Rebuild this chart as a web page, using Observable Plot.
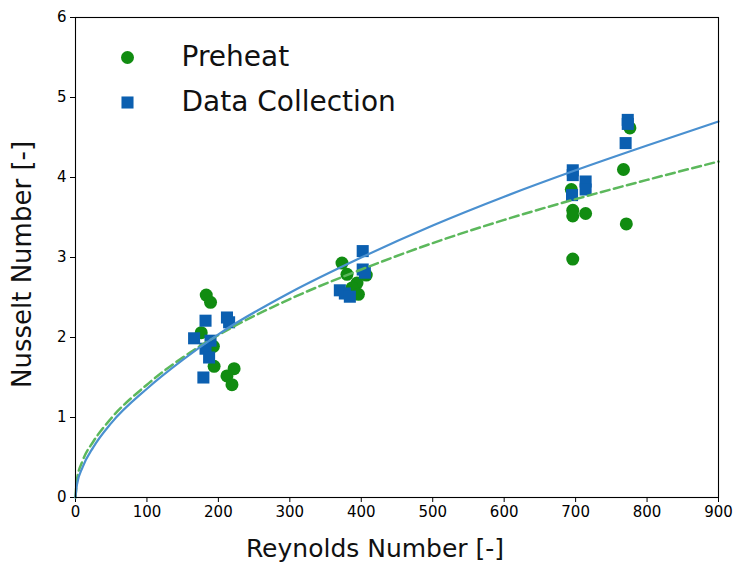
<!DOCTYPE html>
<html><head><meta charset="utf-8">
<script src="https://cdn.jsdelivr.net/npm/d3@7"></script>
<script src="https://cdn.jsdelivr.net/npm/@observablehq/plot@0.6"></script>
<style>body{margin:0;background:#fff;} #chart{width:737px;height:562px;}</style>
</head><body><div id="chart"></div>
<script>
// Preheat measurements (Reynolds, Nusselt)
const preheatRe = [183, 189, 176, 193, 194, 222, 212, 219,
                   373, 380, 407, 394, 387, 396,
                   694, 696, 696, 714, 696, 776, 767, 771];
const preheatNu = [2.53, 2.44, 2.06, 1.89, 1.64, 1.61, 1.52, 1.41,
                   2.93, 2.79, 2.78, 2.68, 2.62, 2.54,
                   3.85, 3.59, 3.52, 3.55, 2.98, 4.62, 4.10, 3.42];
// Data Collection measurements
const collectRe = [182, 212, 215, 166, 189, 182, 187, 179,
                   402, 402, 405, 370, 377, 384,
                   696, 696, 714, 714, 695, 773, 773, 770];
const collectNu = [2.21, 2.25, 2.19, 1.99, 1.96, 1.86, 1.75, 1.50,
                   3.08, 2.85, 2.81, 2.59, 2.55, 2.51,
                   4.09, 4.03, 3.95, 3.85, 3.78, 4.72, 4.67, 4.43];
// Fit curves
const fitRe       = [0, 2, 10, 25, 50, 100, 150, 200, 300, 400, 500, 600, 700, 800, 900];
const fitCollect  = [0, 0.16, 0.38, 0.63, 0.93, 1.36, 1.72, 2.04, 2.56, 3.00, 3.40, 3.76, 4.09, 4.40, 4.70];
const fitPreheat  = [0, 0.22, 0.46, 0.70, 0.99, 1.41, 1.75, 2.03, 2.48, 2.85, 3.18, 3.47, 3.73, 3.97, 4.20];
// Axis ticks
const xTicks = [0, 100, 200, 300, 400, 500, 600, 700, 800, 900];
const yTicks = [0, 1, 2, 3, 4, 5, 6];
const legendLabels = ["Preheat", "Data Collection"];
const xLabel = "Reynolds Number [-]";
const yLabel = "Nusselt Number [-]";

const green = "#118c11";
const blue = "#0b5fb0";

const preheat = preheatRe.map((x, i) => ({x, y: preheatNu[i]}));
const collect = collectRe.map((x, i) => ({x, y: collectNu[i]}));
const fitC = fitRe.map((x, i) => ({x, y: fitCollect[i]}));
const fitP = fitRe.map((x, i) => ({x, y: fitPreheat[i]}));

const chart = Plot.plot({
  width: 737, height: 562,
  marginLeft: 75, marginRight: 19, marginTop: 17, marginBottom: 65,
  style: {fontFamily: "DejaVu Sans", fontSize: "15px", background: "white", color: "#000", overflow: "visible"},
  x: {domain: [0, 900], ticks: xTicks, tickSize: 5, tickPadding: 4, tickFormat: d3.format("d"), label: null},
  y: {domain: [0, 6], ticks: yTicks, tickSize: 5, tickPadding: 4, tickFormat: d3.format("d"), label: null},
  marks: [
    Plot.dot(preheat, {x: "x", y: "y", r: 6.5, fill: green, symbol: "circle"}),
    Plot.dot(collect, {x: "x", y: "y", r: 6.8, fill: blue, symbol: "square"}),
    Plot.line(fitP, {x: "x", y: "y", stroke: "#5cb85c", strokeWidth: 2.5, strokeDasharray: "9,4.5", curve: "monotone-x"}),
    Plot.line(fitC, {x: "x", y: "y", stroke: "#4a90d0", strokeWidth: 2.2, curve: "monotone-x"}),
    Plot.frame({stroke: "black", strokeWidth: 1.1}),
    // legend
    Plot.dot([legendLabels[0]], {frameAnchor: "top-left", dx: 52, dy: 40, r: 6.5, fill: green, symbol: "circle"}),
    Plot.dot([legendLabels[1]], {frameAnchor: "top-left", dx: 52, dy: 85, r: 6.8, fill: blue, symbol: "square"}),
    Plot.text([legendLabels[0]], {frameAnchor: "top-left", dx: 106, dy: 40, text: d => d, fontSize: 28, textAnchor: "start", lineAnchor: "middle", fill: "#111"}),
    Plot.text([legendLabels[1]], {frameAnchor: "top-left", dx: 106, dy: 85, text: d => d, fontSize: 28, textAnchor: "start", lineAnchor: "middle", fill: "#111"}),
    // axis titles
    Plot.text([xLabel], {frameAnchor: "bottom", dx: -22, dy: 51, text: d => d, fontSize: 25, lineAnchor: "middle", textAnchor: "middle", fill: "#111"}),
    Plot.text([yLabel], {frameAnchor: "left", dx: -53, dy: 7, rotate: -90, text: d => d, fontSize: 26, lineAnchor: "middle", textAnchor: "middle", fill: "#111"})
  ]
});
document.getElementById("chart").append(chart);
</script>
</body></html>
